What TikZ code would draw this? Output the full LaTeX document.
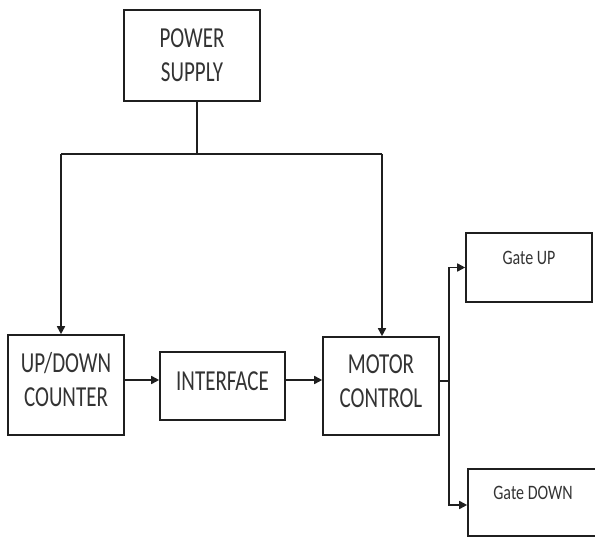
\documentclass[tikz,border=0pt]{standalone}
\usepackage{fontspec}
\setmainfont{Carlito}
\usepackage{graphicx}
\usetikzlibrary{arrows.meta,calc}
\newcommand{\vsb}[1]{\raisebox{5pt}[\height][\depth]{\scalebox{1}[1.38]{#1}}}
\newcommand{\vsc}[1]{\scalebox{1}[1.28]{#1}}
\begin{document}
\begin{tikzpicture}[x=1pt,y=1pt,
  blk/.style={draw=black!88, line width=1.6pt, inner sep=0pt, align=center,
    text=black!80, font=\fontsize{21}{34}\selectfont},
  lbl/.style={inner sep=0pt, text=black!80, font=\fontsize{16}{20}\selectfont},
  wire/.style={draw=black!88, line width=1.6pt},
  arr/.style={wire, -{Triangle[length=8pt,width=8pt]}}]
\useasboundingbox (0,0) rectangle (595,-537);
\clip (0,0) rectangle (595,-537);
\node[blk, minimum width=136, minimum height=91] (power) at (192,-55.5) {\scalebox{1}[1.38]{POWER}\\\scalebox{1}[1.38]{SUPPLY}};
\node[blk, minimum width=116, minimum height=100] (counter) at (66,-385) {\vsb{UP/DOWN}\\\vsb{COUNTER}};
\node[blk, minimum width=125, minimum height=68] (interface) at (222.5,-386) {\vsb{INTERFACE}};
\node[blk, minimum width=116, minimum height=98] (motor) at (381,-386) {\vsb{MOTOR}\\\vsb{CONTROL}};
\node[blk, minimum width=126, minimum height=69] (gateup) at (529,-267.5) {};
\node[lbl] (gateuptxt) at (529,-258) {\vsc{Gate UP}};
\node[blk, minimum width=132, minimum height=67] (gatedown) at (534,-502.5) {};
\node[lbl] (gatedowntxt) at (533,-493) {\vsc{Gate DOWN}};
% power distribution
\coordinate (pj) at (197,-154);
\coordinate (lj) at (61,-154);
\coordinate (rj) at (382,-154);
\draw[wire] (power.south -| pj) -- (pj);
\draw[wire] (lj) -- (rj);
\draw[arr] (lj) -- (lj |- counter.north);
\draw[arr] (rj) -- (rj |- motor.north);
% signal chain
\coordinate (row) at (0,-380);
\draw[arr] (counter.east |- row) -- (interface.west |- row);
\draw[arr] (interface.east |- row) -- (motor.west |- row);
% branch
\coordinate (br) at (449,-381);
\coordinate (gd) at (0,-505);
\draw[wire] (motor.east |- br) -- (br);
\draw[arr] (br) |- (gateup.west);
\draw[arr] (br) |- (gatedown.west |- gd);
\end{tikzpicture}
\end{document}
